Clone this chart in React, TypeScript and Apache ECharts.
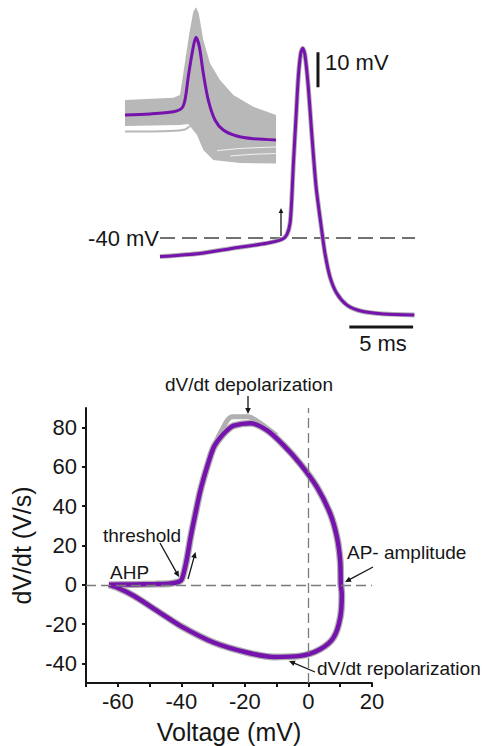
import { useEffect, useRef } from 'react';
import * as echarts from 'echarts';

// ---------- Top panel: action potential (time in ms, voltage in mV) ----------
const apTime = [0, 3.14, 5.75, 8.37, 9.55, 9.94, 10.2, 10.33, 10.45, 10.67, 10.85, 11.04, 11.19, 11.37, 11.63, 11.9, 12.24, 12.68, 12.94, 13.33, 13.86, 14.64, 15.69, 17.51, 19.95];
const apVoltage = [-45.3, -44.4, -42.9, -41.5, -40.4, -39.1, -35.8, -29.1, -19.6, -5.3, 6.1, 12.8, 14.2, 12.3, 3.2, -10.1, -25.3, -37.7, -44.4, -51.1, -55.8, -59.1, -60.8, -61.7, -62];
const thresholdLevel = -40; // mV reference line
const scaleBarV = { t: 12.39, from: 3.1, to: 13.1 }; // 10 mV
const scaleBarT = { v: -65.4, from: 14.85, to: 19.85 }; // 5 ms

// ---------- Inset: overlay of individual traces and their mean ----------
const insetTime = [0, 2.5, 4.83, 5.67, 6.0, 6.33, 6.77, 7.1, 7.43, 7.83, 8.33, 9.0, 9.83, 11.17, 12.83, 15.1];
const insetMean = [-46.7, -46, -44.5, -42.2, -36.7, -21.1, -3.3, 5.1, -1.1, -18.9, -36.7, -50, -56.7, -60.7, -62.5, -63.3];
const insetUpperTime = [0, 4.83, 5.5, 5.93, 6.43, 6.83, 7.1, 7.37, 7.83, 8.5, 9.5, 10.83, 12.83, 15.1];
const insetUpper = [-36.7, -35.1, -33.3, -14.5, 7.8, 22.2, 25.1, 21.1, 3.3, -12.2, -23.3, -33.3, -41.1, -46.7];
const insetLowerTime = [0, 5.5, 6.33, 7.2, 7.83, 8.83, 11.5, 15.1];
const insetLower = [-54, -53.3, -52.7, -60, -70, -76.7, -78.7, -79];
const insetLowTraceTime = [0, 4.5, 6.0, 6.5];
const insetLowTrace = [-57.7, -57.3, -56.3, -54];
const insetGapATime = [9.2, 11.5, 15.1];
const insetGapA = [-70.5, -69, -68];
const insetGapBTime = [10.5, 12.5, 15.1];
const insetGapB = [-74, -73, -72.3];

// ---------- Bottom panel: phase plot (Voltage mV, dV/dt V/s) ----------
const phaseVoltage = [-62.8, -55, -48, -43.4, -40.8, -39.8, -38.4, -37.1, -35.6, -34, -31.9, -29.8, -27.7, -25.6, -23.5, -18.3, -13, -7.8, -2.6, 2.7, 6.9, 9, 10, 10.2, 10.5, 10, 7.9, 3.7, -2.6, -10.9, -19.3, -29.8, -40.3, -47.6, -55, -60.2, -62.8];
const phaseDvdt = [0, 0.2, 0.4, 0.7, 1.5, 3, 12, 24, 36, 48, 60, 70, 75, 78.6, 81, 82.3, 78.6, 71, 61.6, 49.7, 36, 24, 12, 0, -4.8, -16.7, -26.9, -32.8, -36.2, -36.7, -34.5, -29.4, -20.9, -13.3, -5.6, -1.4, 0];
const phasePeakSpreadV = [-31, -27.5, -24, -19, -15, -10];
const phasePeakSpreadD = [66, 78, 85.5, 85.5, 82, 76];
const xTickLabels = [-60, -40, -20, 0, 20];
const yTickLabels = [-40, -20, 0, 20, 40, 60, 80];

const PURPLE = '#7612ad';
const GRAY = '#b0b0b0';
const INK = '#161616';
const FONT = 'Liberation Sans, Arial, Helvetica, sans-serif';

const zip = (a: number[], b: number[]) => a.map((v, i) => [v, b[i]]);

function arrow(x1: number, y1: number, x2: number, y2: number, head = 6, half = 2.8) {
  const dx = x2 - x1, dy = y2 - y1;
  const len = Math.hypot(dx, dy);
  const ux = dx / len, uy = dy / len;
  const bx = x2 - ux * head, by = y2 - uy * head;
  return [
    { type: 'line', z: 100, shape: { x1, y1, x2: bx + ux, y2: by + uy }, style: { stroke: INK, lineWidth: 1.3 } },
    { type: 'polygon', z: 100, shape: { points: [[x2, y2], [bx - uy * half, by + ux * half], [bx + uy * half, by - ux * half]] }, style: { fill: INK } },
  ];
}

function label(text: string, x: number, y: number, size: number, align = 'left') {
  return {
    type: 'text', z: 100,
    style: { text, x, y, fill: INK, fontSize: size, fontFamily: FONT, align, textAlign: align, verticalAlign: 'middle', textVerticalAlign: 'middle' },
  };
}

const hiddenAxis = (gridIndex: number, min: number, max: number) => ({
  gridIndex, type: 'value', min, max, show: false,
  axisLine: { show: false }, axisTick: { show: false }, axisLabel: { show: false }, splitLine: { show: false },
});

export default function App() {
  const ref = useRef<HTMLDivElement>(null);
  useEffect(() => {
    if (!ref.current) return;
    const chart = echarts.init(ref.current, undefined, { renderer: 'svg' });
    const bandPoints = [...zip(insetUpperTime, insetUpper), ...zip(insetLowerTime, insetLower).reverse()];
    const option: any = {
      animation: false,
      textStyle: { fontFamily: FONT },
      grid: [
        { left: 86, top: 408, width: 286, height: 275 },
        { left: 160, top: 28, width: 255, height: 315 },
        { left: 125, top: 0, width: 151, height: 165 },
      ],
      xAxis: [
        {
          gridIndex: 0, type: 'value', min: -70, max: 20, interval: 10,
          axisLine: { onZero: false, lineStyle: { color: INK, width: 2 } },
          axisTick: { show: true, length: 4, lineStyle: { color: INK, width: 2 } },
          axisLabel: { customValues: xTickLabels, fontSize: 22, color: INK, margin: 7, fontFamily: FONT },
          splitLine: { show: false },
          name: 'Voltage (mV)', nameLocation: 'middle', nameGap: 36,
          nameTextStyle: { fontSize: 25, color: INK, fontFamily: FONT },
        },
        hiddenAxis(1, 0, 20),
        hiddenAxis(2, 0, 15.1),
      ],
      yAxis: [
        {
          gridIndex: 0, type: 'value', min: -50, max: 90, interval: 10,
          axisLine: { onZero: false, lineStyle: { color: INK, width: 2 } },
          axisTick: { show: true, length: 4, customValues: yTickLabels, lineStyle: { color: INK, width: 2 } },
          axisLabel: { customValues: yTickLabels, fontSize: 22, color: INK, margin: 9, fontFamily: FONT },
          splitLine: { show: false },
          name: 'dV/dt (V/s)', nameLocation: 'middle', nameGap: 44, nameRotate: 90,
          nameTextStyle: { fontSize: 25, color: INK, fontFamily: FONT },
        },
        hiddenAxis(1, -70, 20),
        hiddenAxis(2, -80, 30),
      ],
      series: [
        // inset
        {
          type: 'custom', xAxisIndex: 2, yAxisIndex: 2, data: [0], silent: true,
          renderItem: (_p: any, api: any) => ({
            type: 'polygon',
            shape: { points: bandPoints.map((p) => api.coord(p)) },
            style: { fill: '#b8b8b8' },
          }),
        },
        {
          type: 'line', xAxisIndex: 2, yAxisIndex: 2, data: zip(insetGapATime, insetGapA),
          symbol: 'none', smooth: 0.3, lineStyle: { color: '#ffffff', width: 1, opacity: 0.85 },
        },
        {
          type: 'line', xAxisIndex: 2, yAxisIndex: 2, data: zip(insetGapBTime, insetGapB),
          symbol: 'none', smooth: 0.3, lineStyle: { color: '#ffffff', width: 1, opacity: 0.85 },
        },
        {
          type: 'line', xAxisIndex: 2, yAxisIndex: 2, data: zip(insetLowTraceTime, insetLowTrace),
          symbol: 'none', smooth: 0.3, lineStyle: { color: '#b8b8b8', width: 2 },
        },
        {
          type: 'line', xAxisIndex: 2, yAxisIndex: 2, data: zip(insetTime, insetMean),
          symbol: 'none', smooth: 0.3, lineStyle: { color: PURPLE, width: 3 },
        },
        // main AP
        {
          type: 'line', xAxisIndex: 1, yAxisIndex: 1, data: [[0, thresholdLevel], [20, thresholdLevel]],
          symbol: 'none', lineStyle: { color: '#444', width: 1.5, type: [15, 7] },
        },
        {
          type: 'line', xAxisIndex: 1, yAxisIndex: 1, data: zip(apTime, apVoltage),
          symbol: 'none', smooth: 0.25, lineStyle: { color: GRAY, width: 4.8 },
        },
        {
          type: 'line', xAxisIndex: 1, yAxisIndex: 1, data: zip(apTime, apVoltage),
          symbol: 'none', smooth: 0.25, lineStyle: { color: PURPLE, width: 3 },
        },
        {
          type: 'line', xAxisIndex: 1, yAxisIndex: 1,
          data: [[scaleBarV.t, scaleBarV.from], [scaleBarV.t, scaleBarV.to]],
          symbol: 'none', lineStyle: { color: INK, width: 3 },
        },
        {
          type: 'line', xAxisIndex: 1, yAxisIndex: 1,
          data: [[scaleBarT.from, scaleBarT.v], [scaleBarT.to, scaleBarT.v]],
          symbol: 'none', lineStyle: { color: INK, width: 3 },
        },
        // phase plot
        {
          type: 'line', xAxisIndex: 0, yAxisIndex: 0, data: zip(phaseVoltage, phaseDvdt),
          symbol: 'none', smooth: 0.3, lineStyle: { color: GRAY, width: 7 },
          markLine: {
            silent: true, symbol: 'none', label: { show: false },
            lineStyle: { color: '#7a7a7a', width: 1.3, type: [10, 5] },
            data: [{ xAxis: 0 }, { yAxis: 0 }],
          },
        },
        {
          type: 'line', xAxisIndex: 0, yAxisIndex: 0, data: zip(phasePeakSpreadV, phasePeakSpreadD),
          symbol: 'none', smooth: 0.3, lineStyle: { color: GRAY, width: 5 },
        },
        {
          type: 'line', xAxisIndex: 0, yAxisIndex: 0, data: zip(phaseVoltage, phaseDvdt),
          symbol: 'none', smooth: 0.3, lineStyle: { color: PURPLE, width: 4.5 },
        },
      ],
      graphic: [
        label('-40 mV', 159, 238, 22, 'right'),
        label('10 mV', 325, 62, 22),
        label('5 ms', 383, 343, 22, 'center'),
        label('dV/dt depolarization', 249, 384, 19, 'center'),
        label('threshold', 103, 535, 19),
        label('AHP', 110, 572, 19),
        label('AP- amplitude', 347, 552, 19),
        label('dV/dt repolarization', 317, 668, 19),
        ...arrow(281, 236, 281, 208, 5, 2.3),
        ...arrow(248, 396, 248, 414),
        ...arrow(160, 543, 179, 577),
        ...arrow(188, 579, 195.5, 552),
        ...arrow(373, 567, 345, 582),
        ...arrow(315, 672, 289, 661),
      ],
    };
    chart.setOption(option);
    return () => chart.dispose();
  }, []);
  return <div ref={ref} style={{ position: 'fixed', left: 0, top: 0, width: 499, height: 746, background: '#fff' }} />;
}
